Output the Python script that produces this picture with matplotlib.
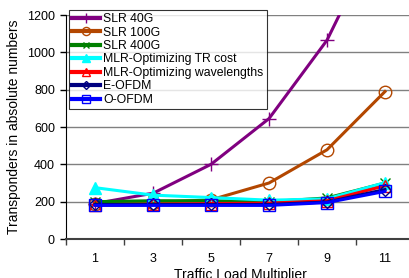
import numpy as np
import matplotlib
matplotlib.use("Agg")
import matplotlib.pyplot as plt

plt.rcParams['font.family'] = ['Liberation Sans', 'DejaVu Sans']

# data
multipliers = ['1', '3', '5', '7', '9', '11']
slr_40g = [190, 245, 400, 645, 1065, 1700]
slr_100g = [190, 195, 210, 300, 478, 790]
slr_400g = [200, 205, 205, 200, 220, 300]
mlr_tr = [275, 235, 222, 208, 215, 302]
mlr_wl = [180, 185, 190, 192, 205, 285]
e_ofdm = [185, 185, 185, 185, 198, 265]
o_ofdm = [180, 180, 180, 180, 195, 255]

series = [
    ('SLR 40G', slr_40g, '#800080', '+', 'full', 10),
    ('SLR 100G', slr_100g, '#B34700', 'o', 'none', 9),
    ('SLR 400G', slr_400g, '#008000', 'x', 'full', 7),
    ('MLR-Optimizing TR cost', mlr_tr, '#00FFFF', '^', 'full', 9),
    ('MLR-Optimizing wavelengths', mlr_wl, '#FF0000', '^', 'none', 9),
    ('E-OFDM', e_ofdm, '#000080', 'D', 'none', 6),
    ('O-OFDM', o_ofdm, '#0000FF', 's', 'none', 9),
]

fig = plt.figure(figsize=(4.09, 2.78), dpi=100)
ax = fig.add_axes([66/409, 1-239/278, 348/409, 224/278])

x = np.arange(len(multipliers))
for name, vals, col, mk, fill, ms in series:
    ax.plot(x, vals, color=col, lw=2.2, marker=mk, ms=ms, fillstyle=fill,
            markeredgewidth=1, label=name)

ax.set_xlim(-0.5, 5.5)
ax.set_ylim(0, 1200)
ax.set_yticks(range(0, 1201, 200))
ax.set_xticks(x)
ax.set_xticklabels(multipliers)
ax.set_xticks(np.arange(-0.5, 5.6, 1), minor=True)
ax.tick_params(axis='x', which='major', length=0, pad=10, labelsize=9)
ax.tick_params(axis='x', which='minor', length=4, width=1, color='#404040')
ax.tick_params(axis='y', length=4, width=1, labelsize=9, pad=4)
ax.yaxis.grid(True, color='#808080', lw=1)
ax.set_axisbelow(True)
for s in ['top', 'right']:
    ax.spines[s].set_visible(False)
ax.spines['left'].set_color('black')
ax.spines['bottom'].set_color('#404040')
ax.spines['bottom'].set_linewidth(1.5)

ax.set_ylabel('Transponders in absolute numbers', fontsize=10, labelpad=4)
ax.set_xlabel('Traffic Load Multiplier', fontsize=10, labelpad=2)

leg = fig.legend(loc='upper left', bbox_to_anchor=(69/409, 1-10/278),
                 fontsize=8.8, frameon=True, fancybox=False, borderpad=0.25,
                 labelspacing=0.12, handlelength=2.3, handletextpad=0.25,
                 borderaxespad=0, markerscale=0.65)
leg.get_frame().set_edgecolor('black')
leg.get_frame().set_linewidth(0.8)
for line in leg.get_lines():
    line.set_linewidth(3)

fig.savefig('out.png', dpi=100)
